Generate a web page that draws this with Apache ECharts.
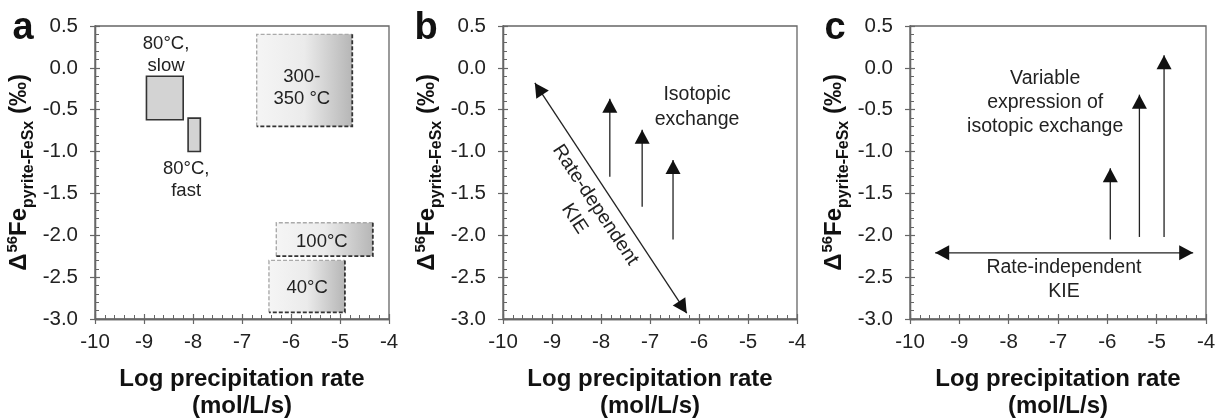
<!DOCTYPE html>
<html><head><meta charset="utf-8">
<script src="https://cdn.jsdelivr.net/npm/echarts@6/dist/echarts.min.js"></script>
<style>html,body{margin:0;padding:0;background:#fff}#c{width:1215px;height:419px}</style>
</head><body><div id="c"></div>
<script>
// ---- axis settings ----
const xRange = [-10, -4];
const yRange = [-3.0, 0.5];
const xStep = 1;
const yStep = 0.5;
const panelLetters = ['a', 'b', 'c'];
const xTitle = 'Log precipitation rate\n(mol/L/s)';

// ---- panel a: experimental fields [xMin, xMax, yMin, yMax] ----
const aSolidBoxes = [[-8.95, -8.2, -0.62, -0.1], [-8.1, -7.85, -1.0, -0.6]];
const aGradBoxes = [[-6.7, -4.75, -0.7, 0.4], [-6.3, -4.33, -2.25, -1.85], [-6.45, -4.9, -2.92, -2.3]];
const aLabelText = ['80°C,\nslow', '80°C,\nfast', '300-\n350 °C', '100°C', '40°C'];
const aLabelXY = [[-8.55, 0.16], [-8.14, -1.34], [-5.78, -0.24], [-5.37, -2.08], [-5.67, -2.63]];

// ---- panel b: arrows [xFrom, yFrom, xTip, yTip] ----
const bDoubleArrows = [[-6.25, -2.93, -9.35, -0.18]];
const bArrows = [[-7.82, -1.30, -7.82, -0.37], [-7.16, -1.66, -7.16, -0.74], [-6.53, -2.05, -6.53, -1.10]];
const bLabelText = ['Isotopic\nexchange', 'Rate-dependent\nKIE'];
const bLabelXY = [[-6.04, -0.47], [-8.33, -1.72]];

// ---- panel c ----
const cDoubleArrows = [[-9.49, -2.21, -4.26, -2.21]];
const cArrows = [[-5.94, -2.05, -5.94, -1.20], [-5.35, -2.02, -5.35, -0.32], [-4.85, -2.02, -4.85, 0.15]];
const cLabelText = ['Variable\nexpression of\nisotopic exchange', 'Rate-independent\nKIE'];
const cLabelXY = [[-7.26, -0.42], [-6.88, -2.53]];

const FONT = 'Liberation Sans, Arial, Helvetica, sans-serif';
const AXIS_COLOR = '#666';
const TEXT_COLOR = '#222';

const grids = [
  {left: 95, right: 826, top: 26, bottom: 100},
  {left: 503, right: 418, top: 26, bottom: 100},
  {left: 910, right: 9, top: 26, bottom: 100}
].map(g => Object.assign(g, {show: true, borderColor: AXIS_COLOR, borderWidth: 1.3, backgroundColor: '#fff',
  containLabel: false, outerBoundsMode: 'none'}));

const xAxes = [], yAxes = [];
for (let i = 0; i < 3; i++) {
  xAxes.push({
    gridIndex: i, type: 'value', position: 'bottom', min: xRange[0], max: xRange[1], interval: xStep,
    axisLine: {onZero: false, lineStyle: {color: AXIS_COLOR, width: 1.3}},
    axisTick: {show: true, inside: false, length: 5, lineStyle: {color: AXIS_COLOR, width: 1.2}},
    axisLabel: {fontSize: 20.5, color: TEXT_COLOR, margin: 13, fontFamily: FONT},
    splitLine: {show: false},
    name: xTitle, nameLocation: 'middle', nameGap: 47,
    nameTextStyle: {fontSize: 24, fontWeight: 'bold', color: '#111', lineHeight: 27, fontFamily: FONT}
  });
  xAxes.push({
    gridIndex: i, type: 'value', position: 'bottom', min: xRange[0], max: xRange[1], interval: xStep,
    axisLine: {onZero: false, lineStyle: {color: AXIS_COLOR, width: 1.3}},
    axisTick: {show: true, inside: true, length: 5, lineStyle: {color: AXIS_COLOR, width: 1.2}},
    minorTick: {show: true, splitNumber: 5, length: 4, lineStyle: {color: AXIS_COLOR, width: 1}},
    axisLabel: {show: false}, splitLine: {show: false}
  });
  yAxes.push({
    gridIndex: i, type: 'value', position: 'left', min: yRange[0], max: yRange[1], interval: yStep,
    axisLine: {onZero: false, lineStyle: {color: AXIS_COLOR, width: 1.3}},
    axisTick: {show: true, inside: false, length: 5, lineStyle: {color: AXIS_COLOR, width: 1.2}},
    axisLabel: {fontSize: 20.5, color: TEXT_COLOR, margin: 17, fontFamily: FONT, formatter: v => v.toFixed(1)},
    splitLine: {show: false},
    name: '{m|Δ}{sup|56}{m|Fe}{sub|pyrite-FeSx}{m| (‰)}',
    nameLocation: 'middle', nameRotate: 90, nameGap: 58,
    nameTextStyle: {
      color: '#111', fontFamily: FONT, fontWeight: 'bold', fontSize: 24, lineHeight: 36,
      rich: {
        m: {fontSize: 24, fontWeight: 'bold', color: '#111', fontFamily: FONT, verticalAlign: 'middle', lineHeight: 36},
        sup: {fontSize: 15, fontWeight: 'bold', color: '#111', fontFamily: FONT, verticalAlign: 'top', lineHeight: 36, padding: [4, 0, 0, 1]},
        sub: {fontSize: 16, fontWeight: 'bold', color: '#111', fontFamily: FONT, verticalAlign: 'bottom', lineHeight: 36}
      }
    }
  });
  yAxes.push({
    gridIndex: i, type: 'value', position: 'left', min: yRange[0], max: yRange[1], interval: yStep,
    axisLine: {onZero: false, lineStyle: {color: AXIS_COLOR, width: 1.3}},
    axisTick: {show: true, inside: true, length: 5, lineStyle: {color: AXIS_COLOR, width: 1.2}},
    minorTick: {show: true, splitNumber: 5, length: 4, lineStyle: {color: AXIS_COLOR, width: 1}},
    axisLabel: {show: false}, splitLine: {show: false}
  });
}

function arrowRender(isDouble) {
  return function (params, api) {
    const p1 = api.coord([api.value(0), api.value(1)]);
    const p2 = api.coord([api.value(2), api.value(3)]);
    const L = 14, W = 7.5;
    function head(tip, from) {
      const dx = tip[0] - from[0], dy = tip[1] - from[1];
      const len = Math.hypot(dx, dy);
      const ux = dx / len, uy = dy / len;
      const bx = tip[0] - ux * L, by = tip[1] - uy * L;
      return {type: 'polygon', shape: {points: [tip, [bx - uy * W, by + ux * W], [bx + uy * W, by - ux * W]]}, style: {fill: '#111'}};
    }
    const children = [
      {type: 'line', shape: {x1: p1[0], y1: p1[1], x2: p2[0], y2: p2[1]}, style: {stroke: '#222', lineWidth: 1.3}},
      head(p2, p1)
    ];
    if (isDouble) children.push(head(p1, p2));
    return {type: 'group', children: children};
  };
}

function solidBoxRender(params, api) {
  const a = api.coord([api.value(0), api.value(3)]);
  const b = api.coord([api.value(1), api.value(2)]);
  return {type: 'rect', shape: {x: a[0], y: a[1], width: b[0] - a[0], height: b[1] - a[1]},
    style: {fill: '#d3d3d3', stroke: '#333', lineWidth: 1.6}};
}

function gradBoxRender(params, api) {
  const a = api.coord([api.value(0), api.value(3)]);
  const b = api.coord([api.value(1), api.value(2)]);
  const x0 = a[0], y0 = a[1], x1 = b[0], y1 = b[1];
  return {type: 'group', children: [
    {type: 'rect', shape: {x: x0, y: y0, width: x1 - x0, height: y1 - y0},
      style: {fill: new echarts.graphic.LinearGradient(0, 0, 1, 0, [
        {offset: 0, color: '#f5f5f5'}, {offset: 0.5, color: '#ebebeb'}, {offset: 1, color: '#b6b6b6'}])}},
    {type: 'polyline', shape: {points: [[x0, y1], [x0, y0], [x1, y0]]},
      style: {fill: null, stroke: '#aaaaaa', lineWidth: 1.4, lineDash: [4, 2]}},
    {type: 'polyline', shape: {points: [[x1, y0], [x1, y1], [x0, y1]]},
      style: {fill: null, stroke: '#333', lineWidth: 1.8, lineDash: [4, 2]}}
  ]};
}

function labelRender(texts, rotations, lineHeight, fontSize) {
  return function (params, api) {
    const p = api.coord([api.value(0), api.value(1)]);
    return {type: 'text', x: p[0], y: p[1], rotation: rotations[params.dataIndex] || 0,
      style: {text: texts[params.dataIndex], fill: TEXT_COLOR, fontSize: fontSize, fontFamily: FONT,
        align: 'center', verticalAlign: 'middle', lineHeight: lineHeight}};
  };
}

const diagAngle = -56.5 * Math.PI / 180;

const series = [
  {type: 'custom', xAxisIndex: 0, yAxisIndex: 0, data: aSolidBoxes, renderItem: solidBoxRender, silent: true},
  {type: 'custom', xAxisIndex: 0, yAxisIndex: 0, data: aGradBoxes, renderItem: gradBoxRender, silent: true},
  {type: 'custom', xAxisIndex: 0, yAxisIndex: 0, data: aLabelXY, renderItem: labelRender(aLabelText, [], 22, 18.5), silent: true, z: 5},
  {type: 'custom', xAxisIndex: 2, yAxisIndex: 2, data: bDoubleArrows, renderItem: arrowRender(true), silent: true},
  {type: 'custom', xAxisIndex: 2, yAxisIndex: 2, data: bArrows, renderItem: arrowRender(false), silent: true},
  {type: 'custom', xAxisIndex: 2, yAxisIndex: 2, data: bLabelXY, renderItem: labelRender(bLabelText, [0, diagAngle], 25, 19.5), silent: true},
  {type: 'custom', xAxisIndex: 4, yAxisIndex: 4, data: cDoubleArrows, renderItem: arrowRender(true), silent: true},
  {type: 'custom', xAxisIndex: 4, yAxisIndex: 4, data: cArrows, renderItem: arrowRender(false), silent: true},
  {type: 'custom', xAxisIndex: 4, yAxisIndex: 4, data: cLabelXY, renderItem: labelRender(cLabelText, [], 24, 19.5), silent: true}
];

const letterX = [23, 426, 835];
const graphic = panelLetters.map((t, i) => ({
  type: 'text', x: letterX[i], y: 29,
  style: {text: t, fill: '#111', fontSize: 38, fontWeight: 'bold', fontFamily: FONT, align: 'center', verticalAlign: 'middle'}
}));

const chart = echarts.init(document.getElementById('c'), null, {renderer: 'canvas'});
chart.setOption({
  animation: false,
  backgroundColor: '#fff',
  grid: grids,
  xAxis: xAxes,
  yAxis: yAxes,
  series: series,
  graphic: graphic
});
</script>
</body></html>
